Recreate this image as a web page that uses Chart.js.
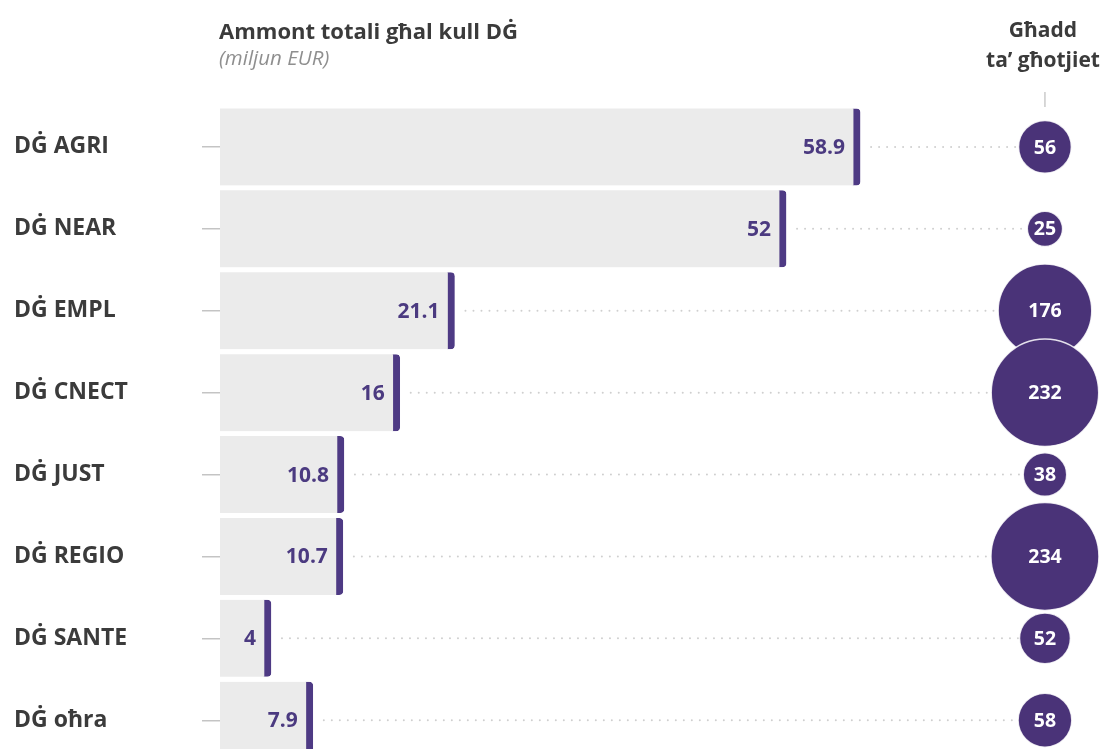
<!DOCTYPE html>
<html><head><meta charset="utf-8">
<script src="https://cdn.jsdelivr.net/npm/chart.js@4.4.1/dist/chart.umd.min.js"></script>
<style>
html,body{margin:0;padding:0;background:#fff;overflow:hidden;width:1108px;height:749px;}
#wrap{position:relative;width:1108px;height:775px;}
canvas{position:absolute;left:0;top:0;}
.h{position:absolute;font-family:"Open Sans",sans-serif;color:#3b3b3b;white-space:nowrap;}
</style></head><body>
<div id="wrap">
<canvas id="c" width="1108" height="775"></canvas>
<div class="h" style="left:219px;top:15px;font-weight:700;font-size:22px;line-height:30px;">Ammont totali għal kull DĠ</div>
<div class="h" style="left:219px;top:43px;font-style:italic;font-size:20.5px;line-height:28px;color:#8f8f8f;">(miljun EUR)</div>
<div class="h" style="left:943px;width:200px;top:14px;text-align:center;font-weight:700;font-size:21px;line-height:30px;">Għadd<br>ta’ għotjiet</div>
</div>
<script>
const categories = ["DĠ AGRI", "DĠ NEAR", "DĠ EMPL", "DĠ CNECT", "DĠ JUST", "DĠ REGIO", "DĠ SANTE", "DĠ oħra"];
const amounts = [58.9, 52, 21.1, 16, 10.8, 10.7, 4, 7.9];
const amountLabels = ["58.9", "52", "21.1", "16", "10.8", "10.7", "4", "7.9"];
const grants = [56, 25, 176, 232, 38, 234, 52, 58];

const PURPLE = '#4e3a84';
const BUBBLE = '#4a3378';
const X_MIN = -0.75, X_MAX = 82.0;
const BUBBLE_COL = 0.929;
const R_K = 3.53;

const deco = {
  id: 'deco',
  beforeDatasetsDraw(chart) {
    const ctx = chart.ctx;
    const bars = chart.getDatasetMeta(0).data;
    const bubs = chart.getDatasetMeta(1).data;
    ctx.save();
    ctx.strokeStyle = '#cfcfcf';
    ctx.lineWidth = 2;
    ctx.lineCap = 'round';
    ctx.setLineDash([0, 8]);
    bars.forEach((b, i) => {
      ctx.beginPath();
      ctx.moveTo(b.x + 11, b.y);
      ctx.lineTo(bubs[i].x, b.y);
      ctx.stroke();
    });
    ctx.setLineDash([]);
    ctx.lineCap = 'butt';
    ctx.strokeStyle = '#bdbdbd';
    ctx.lineWidth = 1.2;
    const bx = bubs[0].x;
    ctx.beginPath();
    ctx.moveTo(bx, chart.chartArea.top - 14);
    ctx.lineTo(bx, chart.chartArea.top + 1);
    ctx.stroke();
    ctx.restore();
  },
  afterDatasetsDraw(chart) {
    const ctx = chart.ctx;
    const bars = chart.getDatasetMeta(0).data;
    const bubs = chart.getDatasetMeta(1).data;
    ctx.save();
    ctx.textBaseline = 'middle';
    ctx.font = 'bold 21px "Open Sans"';
    ctx.fillStyle = '#4b3a80';
    ctx.textAlign = 'right';
    bars.forEach((b, i) => {
      ctx.fillText(amountLabels[i], b.x - 15, b.y + 1);
    });
    ctx.fillStyle = '#ffffff';
    ctx.textAlign = 'center';
    ctx.font = 'bold 19.5px "Open Sans"';
    bubs.forEach((p, i) => {
      ctx.fillText(String(grants[i]), p.x, p.y + 1);
    });
    ctx.restore();
  }
};

new Chart(document.getElementById('c'), {
  data: {
    labels: categories,
    datasets: [
      {
        type: 'bar',
        data: amounts,
        xAxisID: 'x',
        yAxisID: 'y',
        base: X_MIN,
        backgroundColor: '#ebebeb',
        borderColor: PURPLE,
        borderWidth: {top: 0, bottom: 0, left: 0, right: 7},
        borderSkipped: false,
        borderRadius: {topLeft: 0, bottomLeft: 0, topRight: 4, bottomRight: 4},
        barThickness: 77,
        order: 2
      },
      {
        type: 'bubble',
        data: categories.map((c, i) => ({x: BUBBLE_COL, y: c, r: R_K * Math.sqrt(grants[i])})),
        xAxisID: 'xb',
        yAxisID: 'y',
        backgroundColor: BUBBLE,
        borderColor: 'rgba(255,255,255,0.85)',
        borderWidth: 1.5,
        hoverRadius: 0,
        clip: false,
        order: 1
      }
    ]
  },
  options: {
    indexAxis: 'y',
    responsive: false,
    animation: false,
    events: [],
    layout: {autoPadding: false, padding: {left: 14, top: 106, right: 0, bottom: 0}},
    plugins: {legend: {display: false}, tooltip: {enabled: false}},
    scales: {
      x: {type: 'linear', min: X_MIN, max: X_MAX, display: false},
      xb: {type: 'linear', min: 0, max: 1, display: false},
      y: {
        type: 'category',
        offset: true,
        grid: {offset: false, drawOnChartArea: false, drawTicks: true, tickLength: 18, color: '#c4c4c4', lineWidth: 1.5},
        border: {display: false},
        ticks: {crossAlign: 'far', padding: 0, color: '#3b3b3b', font: {family: 'Open Sans', weight: 'bold', size: 23}},
        afterFit(s) { s.width = 206; }
      }
    }
  },
  plugins: [deco]
});
</script>
</body></html>
